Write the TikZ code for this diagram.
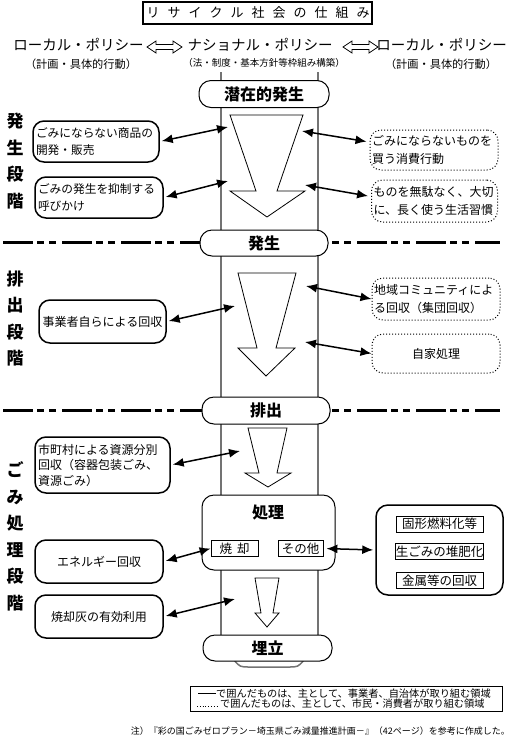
\documentclass[tikz,border=0pt]{standalone}
\usepackage{fontspec}
\setmainfont{Noto Sans CJK JP}
\usetikzlibrary{arrows.meta,calc}
\begin{document}
\begin{tikzpicture}[x=1pt,y=-1pt,
  stadium/.style={draw,line width=1pt,fill=white,rounded corners=12pt,minimum height=26pt,inner sep=0pt,font=\fontsize{16}{16}\selectfont\bfseries},
  sbox/.style={draw,line width=1.5pt,rounded corners=11pt,fill=white,inner sep=3pt,font=\fontsize{11.7}{17}\selectfont},
  dbox/.style={draw,line width=1pt,dotted,rounded corners=11pt,fill=white,inner sep=2pt,font=\fontsize{12}{18}\selectfont},
  inbox/.style={draw,line width=0.8pt,fill=white,inner sep=0pt,minimum height=16pt,font=\fontsize{12.5}{12.5}\selectfont},
  dbl/.style={{Latex[length=11pt,width=9pt]}-{Latex[length=11pt,width=9pt]},line width=1.5pt},
  hollow/.style={draw,line width=0.8pt,fill=white,line join=miter},
  colline/.style={draw=black!55,line width=1.5pt},
  dashdot/.style={line width=3pt,dash pattern=on 30pt off 4pt on 7pt off 5pt on 7pt off 6pt},
  stagelabel/.style={font=\fontsize{17}{26.5}\selectfont\bfseries,align=center,inner sep=0pt},
  pol/.style={font=\fontsize{14.5}{14.5}\selectfont,inner sep=0pt},
  polsub/.style={font=\fontsize{11.2}{11.2}\selectfont,inner sep=0pt}
]
\useasboundingbox (0,0) rectangle (515,740);

% title
\node[draw,line width=2pt,minimum width=229pt,minimum height=22pt,inner sep=0pt] (title) at (257.5,13) {};
\foreach \c [count=\i from 0] in {リ,サ,イ,ク,ル,社,会,の,仕,組,み}
  \node[inner sep=0pt,font=\fontsize{13}{13}\selectfont] (t\i) at (153+21*\i,13) {\c};

% policies
\node[pol] (lp) at (78.5,45) {ローカル・ポリシー};
\node[pol] (np) at (260,45) {ナショナル・ポリシー};
\node[pol] (rp) at (441.5,45) {ローカル・ポリシー};
\node[polsub] (lps) at (81,64) {（計画・具体的行動）};
\node[font=\fontsize{9.5}{9.5}\selectfont,inner sep=0pt] (nps) at (264,63) {（法・制度・基本方針等枠組み構築）};
\node[polsub] (rps) at (441,64) {（計画・具体的行動）};
\draw[hollow] (147,47) -- (156,41) -- (156,44.5) -- (173,44.5) -- (173,41) -- (182,47) -- (173,53) -- (173,49.5) -- (156,49.5) -- (156,53) -- cycle;
\draw[hollow] (343,47) -- (352,41) -- (352,44.5) -- (369,44.5) -- (369,41) -- (378,47) -- (369,53) -- (369,49.5) -- (352,49.5) -- (352,53) -- cycle;

% central column
\draw[colline] (221,72) -- (221,640);
\draw[colline] (318,72) -- (318,640);
\draw[colline] (234,660) .. controls (240,667) .. (250,667) -- (288,667) .. controls (298,667) .. (304,660);

% stage separators
\draw[dashdot] (3,242) -- (500,242);
\draw[dashdot] (3,410) -- (500,410);

% stage labels
\node[stagelabel] (s1) at (15,161) {発\\生\\段\\階};
\node[stagelabel] (s2) at (15,318.5) {排\\出\\段\\階};
\node[stagelabel] (s3) at (15,536.5) {ご\\み\\処\\理\\段\\階};

% central nodes
\node[stadium,minimum width=130pt,minimum height=27pt] (pot) at (264,94) {潜在的発生};
\node[stadium,minimum width=128pt] (gen) at (264,243) {発生};
\node[stadium,minimum width=128pt,minimum height=27pt] (dis) at (266,410.5) {排出};
\node[draw,line width=1pt,fill=white,rounded corners=12pt,minimum width=133pt,minimum height=75pt,inner sep=0pt] (proc) at (268.5,532.5) {};
\node[inner sep=0pt,font=\fontsize{16}{16}\selectfont\bfseries] (proct) at (268,512) {処理};
\node[inbox,minimum width=47pt] (burn) at (234.5,548.5) {焼\hspace{5pt}却};
\node[inbox,minimum width=45pt] (other) at (300.5,548.5) {その他};
\node[stadium,minimum width=129pt] (land) at (267.5,648) {埋立};

% hollow flow arrows
\draw[hollow] (230,115) -- (303,115) -- (277,191) -- (305,191) -- (267,217) -- (230,191) -- (256,191) -- cycle;
\draw[hollow] (238,273) -- (296,273) -- (276,348) -- (295,348) -- (266,376) -- (238,348) -- (257,348) -- cycle;
\draw[hollow] (248,428) -- (287,428) -- (277,473) -- (291,473) -- (268,487) -- (245,473) -- (259,473) -- cycle;
\draw[hollow] (255,578) -- (279,578) -- (273,613) -- (279,613) -- (267,627) -- (255,613) -- (261,613) -- cycle;

% left boxes
\node[sbox,minimum height=41pt,text width=120pt,align=left] (l1) at (96,141.5) {ごみにならない商品の\\開発・販売};
\node[sbox,minimum height=41pt,text width=122pt,align=left] (l2) at (99,197.5) {ごみの発生を抑制する\\呼びかけ};
\node[sbox,minimum height=43pt,text width=121pt,align=center,font=\fontsize{12}{12}\selectfont] (l3) at (102.5,321.5) {事業者自らによる回収};
\node[sbox,minimum height=56pt,text width=129pt,align=left,font=\fontsize{12}{15.5}\selectfont] (l4) at (102.5,465) {市町村による資源分別\\回収（容器包装ごみ、\\資源ごみ）};
\node[sbox,minimum height=43pt,text width=122pt,align=center,font=\fontsize{12}{12}\selectfont] (l5) at (99,561.5) {エネルギー回収};
\node[sbox,minimum height=43pt,text width=122pt,align=center,font=\fontsize{12}{12}\selectfont] (l6) at (99,616.5) {焼却灰の有効利用};

% right dotted boxes
\node[dbox,minimum height=40pt,text width=124pt,align=left] (r1) at (434,150) {ごみにならないものを\\買う消費行動};
\node[dbox,minimum height=42pt,text width=122pt,align=left] (r2) at (434.5,201) {ものを無駄なく、大切\\に、長く使う生活習慣};
\node[dbox,minimum height=42pt,text width=124pt,align=left] (r3) at (436,299) {地域コミュニティによ\\る回収（集団回収）};
\node[dbox,minimum height=39pt,text width=124pt,align=center] (r4) at (436,353.5) {自家処理};

% right solid box
\node[draw,line width=1.5pt,rounded corners=12pt,fill=white,minimum width=127pt,minimum height=90pt,inner sep=0pt] (rb) at (439.5,550) {};
\node[inbox,minimum width=87pt] (rb1) at (439.5,524) {固形燃料化等};
\node[inbox,minimum width=87pt] (rb2) at (439.5,551.5) {生ごみの堆肥化};
\node[inbox,minimum width=87pt] (rb3) at (439.5,580.5) {金属等の回収};

% connector end points in the column
\coordinate (c1) at (228,127);
\coordinate (c2) at (228,181);
\coordinate (c3) at (302,131);
\coordinate (c4) at (305,185);
\coordinate (c5) at (235,306);
\coordinate (c6) at (306,286);
\coordinate (c7) at (305,342);
\coordinate (c8) at (240,451);
\coordinate (c10) at (235,599);

\draw[dbl,shorten <=2pt] (l1.east) -- (c1);
\draw[dbl,shorten <=2pt] (l2.east) -- (c2);
\draw[dbl,shorten >=3pt] (c3) -- (r1.173);
\draw[dbl,shorten >=3pt] (c4) -- (r2.176);
\draw[dbl,shorten <=2pt] (l3.east) -- (c5);
\draw[dbl] (c6) -- (r3.west);
\draw[dbl] (c7) -- (r4.west);
\draw[dbl,shorten <=2pt] (l4.east) -- (c8);
\draw[dbl,shorten <=2pt] (l5.east) -- (burn.west);
\draw[dbl,shorten <=2pt] (l6.east) -- (c10);
\draw[dbl,shorten <=3pt,shorten >=2pt] (other.east) -- (rb.west);

% legend
\node[draw,line width=1pt,minimum width=312pt,minimum height=25pt,inner sep=0pt] (leg) at (346,698.5) {};
\draw[line width=1.5pt] (198,693.5) -- (216,693.5);
\node[anchor=west,inner sep=0pt,font=\fontsize{10.2}{10.2}\selectfont] (leg1) at (216,693.5) {で囲んだものは、主として、事業者、自治体が取り組む領域};
\draw[line width=0.8pt,dotted] (197,706) -- (219,706);
\node[anchor=west,inner sep=0pt,font=\fontsize{10.2}{10.2}\selectfont] (leg2) at (220,704) {で囲んだものは、主として、市民・消費者が取り組む領域};

% note
\node[anchor=east,inner sep=0pt,font=\fontsize{9}{9}\selectfont] (note) at (510,731) {注）『彩の国ごみゼロプラン－埼玉県ごみ減量推進計画－』（42ページ）を参考に作成した。};
\end{tikzpicture}
\end{document}
